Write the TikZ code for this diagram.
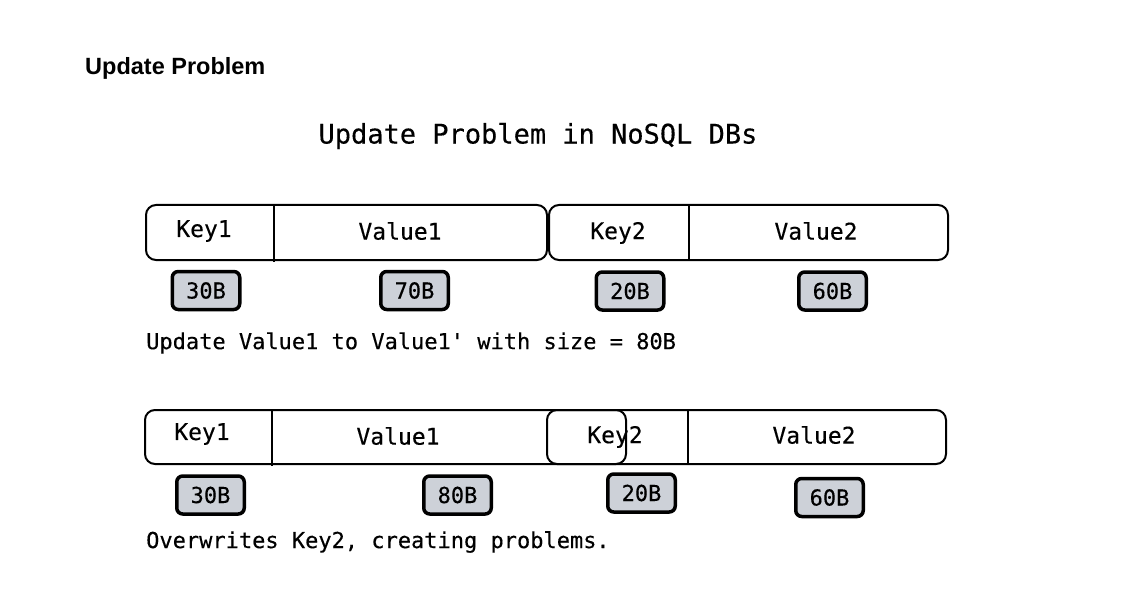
\documentclass[tikz,border=0pt]{standalone}
\usepackage{fontspec}
\setmainfont{Liberation Sans}
\newfontfamily\monof[FakeBold=0.3]{DejaVu Sans Mono}
\definecolor{badgefill}{HTML}{CDD1D8}
\begin{document}
\begin{tikzpicture}[x=1pt,y=-1pt,
  rec/.style={draw=black, line width=2pt, rounded corners=10pt, fill=none, inner sep=0pt},
  lbl/.style={font=\monof\fontsize{23}{26}\selectfont, inner sep=0pt, anchor=center},
  badge/.style={draw=black, line width=3.5pt, rounded corners=6pt, fill=badgefill, minimum width=67.5pt, minimum height=38pt, inner sep=0pt, font=\monof\fontsize{22}{25}\selectfont},
  captext/.style={font=\monof\fontsize{22}{25}\selectfont, inner sep=0pt, anchor=west}]
\useasboundingbox (0,0) rectangle (1135,596);
\fill[white] (0,0) rectangle (1135,596);
\node[font=\bfseries\fontsize{23.5}{27}\selectfont, anchor=west, inner sep=0pt] (head) at (85,68) {Update Problem};
\node[font=\monof\fontsize{27}{30}\selectfont, inner sep=0pt] (title) at (538,136) {Update Problem in NoSQL DBs};
% Row 1
\node[rec, minimum width=401pt, minimum height=55pt] (b1) at (346.5,232.5) {};
\node[rec, minimum width=399pt, minimum height=55pt] (b2) at (748.5,232.5) {};
\draw[line width=2pt] (274,205) -- (274,262);
\draw[line width=2pt] (689,205) -- (689,260);
\node[lbl] (k1) at (204,231) {Key1};
\node[lbl] (v1) at (400,231) {Value1};
\node[lbl] (k2) at (618,233) {Key2};
\node[lbl] (v2) at (816,231) {Value2};
\node[badge] (s1) at (206,290.5) {30B};
\node[badge] (s2) at (414.5,290.5) {70B};
\node[badge] (s3) at (630,291) {20B};
\node[badge] (s4) at (832.5,291) {60B};
\node[captext] (c1) at (146,343) {Update Value1 to Value1' with size = 80B};
% Row 2
\node[rec, minimum width=399pt, minimum height=54pt] (d2) at (746.5,437) {};
\draw[line width=2pt] (688,410) -- (688,464);
\node[lbl] (k4) at (615,437) {Key2};
\node[rec, minimum width=481pt, minimum height=54pt] (d1) at (385.5,437) {};
\draw[line width=2pt] (272,410) -- (272,466);
\node[lbl] (k3) at (202,434) {Key1};
\node[lbl] (v3) at (398,436) {Value1};
\node[lbl] (v4) at (814,435) {Value2};
\node[badge] (t1) at (210.5,495) {30B};
\node[badge] (t2) at (457.5,495) {80B};
\node[badge] (t3) at (641.5,493) {20B};
\node[badge] (t4) at (829.5,497.5) {60B};
\node[captext] (c2) at (146,542) {Overwrites Key2, creating problems.};
\end{tikzpicture}
\end{document}
